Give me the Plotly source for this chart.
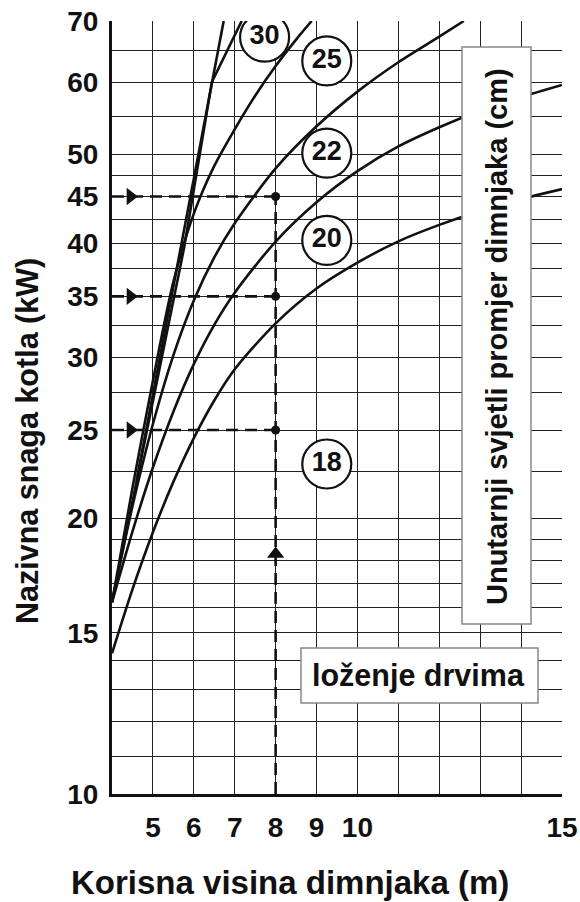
import plotly.graph_objects as go

# ---------------- data ----------------
# chimney height (m) vs. boiler power (kW) for inner chimney diameters (cm)
d30_x = [4.0, 5.76, 6.44, 7.17]
d30_y = [16.2, 39.5, 60.0, 70.0]
d30b_x = [4.6, 6.73]
d30b_y = [22.0, 70.0]
d25_x = [4.0, 4.5, 5.0, 5.5, 6.0, 6.5, 7.0, 7.5, 8.0, 8.5, 8.88]
d25_y = [16.2, 21.6, 28.3, 36.3, 43.1, 48.6, 53.3, 58.0, 62.5, 66.8, 70.0]
d22_x = [4.0, 4.5, 5.0, 5.5, 6.0, 6.5, 7.0, 8.0, 9.0, 10.0, 11.0, 12.0, 12.6]
d22_y = [16.2, 20.63, 25.38, 30.17, 34.63, 38.6, 42.07, 48.3, 53.7, 58.6, 63.1, 67.3, 70.0]
d20_x = [4.0, 4.5, 5.0, 5.5, 6.0, 6.5, 7.0, 8.0, 9.0, 10.0, 11.0, 12.0, 13.0, 14.0, 15.0]
d20_y = [16.2, 19.36, 22.75, 26.18, 29.51, 32.58, 35.32, 40.18, 44.36, 47.97, 51.05, 53.58, 55.85, 57.8, 59.6]
d18_x = [4.0, 4.5, 5.0, 5.5, 6.0, 6.5, 7.0, 8.0, 9.0, 10.0, 11.0, 12.0, 13.0, 14.0, 15.0]
d18_y = [14.25, 16.74, 19.33, 21.94, 24.5, 26.93, 29.13, 32.7, 35.7, 38.1, 40.2, 41.9, 43.4, 44.7, 45.85]

diam_labels = ["30", "25", "22", "20", "18"]
label_x = [7.73, 9.25, 9.25, 9.25, 9.25]
label_y = [67.2, 63.3, 50.2, 40.3, 22.95]

guide_height = 8
guide_power = [25, 35, 45]
arrow_x = 4.45
arrow_up_y = 18.3

x_grid = [5, 6, 7, 8, 9, 10, 11, 12, 13, 14, 15]
x_text = ["5", "6", "7", "8", "9", "10", "", "", "", "", "15"]
y_grid = [10, 11, 12, 13, 14, 15, 16, 17, 18, 19, 20, 22.5, 25, 27.5, 30, 32.5,
          35, 37.5, 40, 42.5, 45, 47.5, 50, 55, 60, 65, 70]
y_labelled = [10, 15, 20, 25, 30, 35, 40, 45, 50, 60, 70]
y_text = [str(v) if v in y_labelled else "" for v in y_grid]

x_title = "Korisna visina dimnjaka (m)"
y_title = "Nazivna snaga kotla (kW)"
box_v_text = "Unutarnji svjetli promjer dimnjaka (cm)"
box_h_text = "loženje drvima"

FONT = "Liberation Sans, Arial, sans-serif"
INK = "#111111"

fig = go.Figure()

curve = dict(color=INK, width=2.6)
for xs, ys in [(d30_x, d30_y), (d30b_x, d30b_y), (d25_x, d25_y),
               (d22_x, d22_y), (d20_x, d20_y), (d18_x, d18_y)]:
    fig.add_trace(go.Scatter(x=xs, y=ys, mode="lines",
                             line=dict(curve, shape="spline" if len(xs) > 4 else "linear",
                                       smoothing=0.8),
                             hoverinfo="skip", showlegend=False))

dash = dict(color=INK, width=2.6, dash="12px,7px")
for p in guide_power:
    fig.add_trace(go.Scatter(x=[4.0, guide_height], y=[p, p], mode="lines",
                             line=dash, showlegend=False, hoverinfo="skip"))
fig.add_trace(go.Scatter(x=[guide_height, guide_height], y=[10, max(guide_power)],
                         mode="lines", line=dash, showlegend=False, hoverinfo="skip"))
# arrow heads and dots
fig.add_trace(go.Scatter(x=[arrow_x] * len(guide_power), y=guide_power, mode="markers",
                         marker=dict(symbol="triangle-right", size=15, color=INK),
                         showlegend=False, hoverinfo="skip"))
fig.add_trace(go.Scatter(x=[guide_height], y=[arrow_up_y], mode="markers",
                         marker=dict(symbol="triangle-up", size=15, color=INK),
                         showlegend=False, hoverinfo="skip"))
fig.add_trace(go.Scatter(x=[guide_height] * len(guide_power), y=guide_power, mode="markers",
                         marker=dict(symbol="circle", size=9, color=INK),
                         showlegend=False, hoverinfo="skip"))

# circled diameter labels
fig.add_trace(go.Scatter(x=label_x, y=label_y, mode="markers+text", text=diam_labels,
                         textposition="middle center",
                         textfont=dict(family=FONT, size=27, color=INK, weight="bold"),
                         marker=dict(symbol="circle", size=49, color="white",
                                     line=dict(color=INK, width=2.2)),
                         showlegend=False, hoverinfo="skip"))

# boxes (paper coords)
fig.add_shape(type="rect", xref="paper", yref="paper", x0=0.7778, x1=0.9311,
              y0=0.2199, y1=0.9664, fillcolor="white",
              line=dict(color="#888888", width=1.5), layer="above")
fig.add_shape(type="rect", xref="paper", yref="paper", x0=0.42, x1=0.9467,
              y0=0.1177, y1=0.1889, fillcolor="white",
              line=dict(color="#888888", width=1.5), layer="above")

fig.add_annotation(x=0.8556, y=0.5912, xref="paper", yref="paper", text=box_v_text,
                   textangle=-90, showarrow=False, xanchor="center", yanchor="middle",
                   font=dict(family=FONT, size=29, color=INK, weight="bold"))
fig.add_annotation(x=0.6822, y=0.1527, xref="paper", yref="paper", text=box_h_text,
                   showarrow=False, xanchor="center", yanchor="middle",
                   font=dict(family=FONT, size=30.5, color=INK, weight="bold"))
fig.add_annotation(x=0.3956, y=-0.1151, xref="paper", yref="paper", text=x_title,
                   showarrow=False, xanchor="center", yanchor="middle",
                   font=dict(family=FONT, size=33, color=INK, weight="bold"))
fig.add_annotation(x=-0.1867, y=0.4567, xref="paper", yref="paper", text=y_title,
                   textangle=-90, showarrow=False, xanchor="center", yanchor="middle",
                   font=dict(family=FONT, size=30.5, color=INK, weight="bold"))

fig.update_layout(
    width=580, height=902,
    margin=dict(l=112, r=18, t=21, b=108, autoexpand=False),
    paper_bgcolor="white", plot_bgcolor="white",
    showlegend=False,
    xaxis=dict(range=[4, 15], tickmode="array", tickvals=x_grid, ticktext=x_text,
               showgrid=True, gridcolor="#222222", gridwidth=1.3, automargin=False,
               showline=True, linecolor=INK, linewidth=3, ticks="",
               ticklabelstandoff=6, zeroline=False, ticklabeloverflow="allow",
               tickfont=dict(family=FONT, size=28, color=INK, weight="bold")),
    yaxis=dict(type="log", range=[1, 1.8451], tickmode="array", tickvals=y_grid,
               ticktext=y_text, showgrid=True, gridcolor="#222222", gridwidth=1.3,
               automargin=False, ticklabeloverflow="allow",
               showline=True, linecolor=INK, linewidth=3, ticks="",
               ticklabelstandoff=5, zeroline=False,
               tickfont=dict(family=FONT, size=28, color=INK, weight="bold")),
)

# remove the default page margin so the 580x902 figure fills the window exactly
fig.write_html("out.html", config={"displayModeBar": False},
               post_script="document.body.style.margin='0';document.body.style.overflow='hidden';")
